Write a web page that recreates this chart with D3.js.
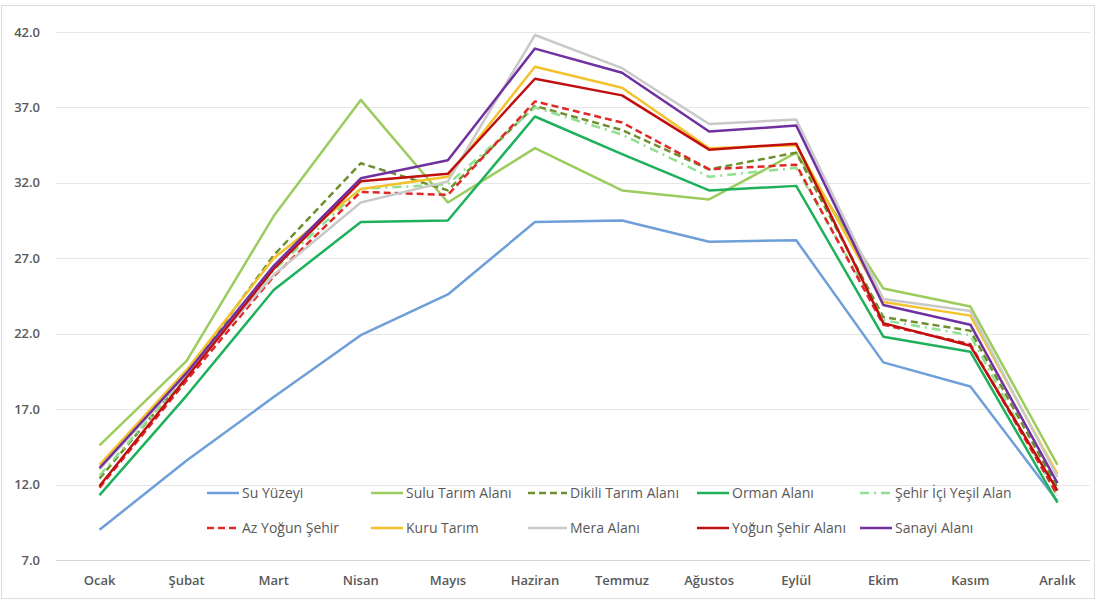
<!DOCTYPE html>
<html lang="tr">
<head>
<meta charset="utf-8">
<script src="https://cdn.jsdelivr.net/npm/d3@7"></script>
<style>
  html, body { margin: 0; padding: 0; background: #fff; }
  svg { display: block; }
  .axis-label { font-family: "Open Sans", "DejaVu Sans", sans-serif; font-weight: 600; fill: #595959; }
  .legend-label { font-family: "Liberation Sans Narrow", "Open Sans", sans-serif; fill: #595959; }
</style>
</head>
<body>
<svg id="chart" width="1097" height="601"></svg>
<script>
// Monthly values per land-use class
const months = ["Ocak", "Şubat", "Mart", "Nisan", "Mayıs", "Haziran", "Temmuz", "Ağustos", "Eylül", "Ekim", "Kasım", "Aralık"];
const yTicks = [7, 12, 17, 22, 27, 32, 37, 42];

const suYuzeyi      = [9.0, 13.6, 17.8, 21.9, 24.6, 29.4, 29.5, 28.1, 28.2, 20.1, 18.5, 10.9];
const suluTarim     = [14.6, 20.2, 29.8, 37.5, 30.7, 34.3, 31.5, 30.9, 34.0, 25.0, 23.8, 13.3];
const dikiliTarim   = [12.4, 19.3, 27.2, 33.3, 31.5, 37.1, 35.5, 32.9, 34.0, 23.1, 22.2, 11.8];
const ormanAlani    = [11.3, 17.9, 24.9, 29.4, 29.5, 36.4, 33.9, 31.5, 31.8, 21.8, 20.8, 10.8];
const sehirIciYesil = [12.6, 19.2, 26.2, 31.6, 31.9, 37.0, 35.2, 32.4, 33.0, 22.9, 21.9, 11.2];
const azYogunSehir  = [11.8, 18.9, 25.8, 31.4, 31.2, 37.4, 36.0, 32.9, 33.2, 22.6, 21.3, 11.3];
const kuruTarim     = [13.3, 19.6, 27.0, 31.6, 32.4, 39.7, 38.3, 34.3, 34.5, 24.1, 23.2, 12.7];
const meraAlani     = [13.0, 19.3, 25.9, 30.7, 32.1, 41.8, 39.6, 35.9, 36.2, 24.3, 23.5, 12.5];
const yogunSehir    = [11.9, 19.1, 26.3, 32.1, 32.6, 38.9, 37.8, 34.2, 34.6, 22.7, 21.2, 11.6];
const sanayiAlani   = [13.1, 19.4, 26.5, 32.3, 33.5, 40.9, 39.3, 35.4, 35.8, 23.9, 22.6, 12.1];

const series = [
  { name: "Su Yüzeyi",            values: suYuzeyi,      color: "#6f9fd8", dash: null },
  { name: "Sulu Tarım Alanı",     values: suluTarim,     color: "#9ccc5e", dash: null },
  { name: "Dikili Tarım Alanı",   values: dikiliTarim,   color: "#6f8f2e", dash: "7,4" },
  { name: "Orman Alanı",          values: ormanAlani,    color: "#1fb05c", dash: null },
  { name: "Şehir İçi Yeşil Alan", values: sehirIciYesil, color: "#8fe08f", dash: "9,5,2,5" },
  { name: "Az Yoğun Şehir",       values: azYogunSehir,  color: "#e02828", dash: "7,4" },
  { name: "Kuru Tarım",           values: kuruTarim,     color: "#f4c22c", dash: null },
  { name: "Mera Alanı",           values: meraAlani,     color: "#c9c9c9", dash: null },
  { name: "Yoğun Şehir Alanı",    values: yogunSehir,    color: "#c00f0f", dash: null },
  { name: "Sanayi Alanı",         values: sanayiAlani,   color: "#7030a0", dash: null }
];

const svg = d3.select("#chart");

// outer frame
svg.append("rect")
  .attr("x", 1.5).attr("y", 5.5).attr("width", 1093).attr("height", 593)
  .attr("fill", "none").attr("stroke", "#dcdcdc").attr("stroke-width", 1);

const x = d3.scaleBand().domain(months).range([56, 1101]);
const xc = m => x(m) + x.bandwidth() / 2;
const y = d3.scaleLinear().domain([7, 42]).range([560, 32]);

// horizontal gridlines
svg.append("g").selectAll("line").data(yTicks).join("line")
  .attr("x1", 56).attr("x2", 1090)
  .attr("y1", d => Math.round(y(d)) + 0.5).attr("y2", d => Math.round(y(d)) + 0.5)
  .attr("stroke", d => d === 7 ? "#d6d6d6" : "#e6e6e6").attr("stroke-width", 1.2);

// y axis labels
svg.append("g").selectAll("text").data(yTicks).join("text")
  .attr("class", "axis-label")
  .attr("x", 40).attr("y", d => y(d) + 4.5)
  .attr("text-anchor", "end").attr("font-size", 13)
  .text(d => d.toFixed(1));

// x axis labels
svg.append("g").selectAll("text").data(months).join("text")
  .attr("class", "axis-label")
  .attr("x", d => xc(d)).attr("y", 585)
  .attr("text-anchor", "middle").attr("font-size", 13).attr("font-weight", 700)
  .text(d => d);

// series lines
const line = d3.line().x((d, i) => xc(months[i])).y(d => y(d));
svg.append("g").selectAll("path").data(series).join("path")
  .attr("d", s => line(s.values))
  .attr("fill", "none")
  .attr("stroke", s => s.color)
  .attr("stroke-width", 2.5)
  .attr("stroke-linejoin", "round")
  .attr("stroke-dasharray", s => s.dash);

// legend: two rows of five
const legendCols = [207, 371, 535, 697, 860];
const legendRows = [493, 528];
const lg = svg.append("g").selectAll("g").data(series).join("g")
  .attr("transform", (s, i) => `translate(${legendCols[i % 5]},${legendRows[Math.floor(i / 5)]})`);
lg.append("line")
  .attr("x1", (s, i) => [0, 0, -7, 0, 0][i % 5]).attr("x2", 32)
  .attr("y1", 0).attr("y2", 0)
  .attr("stroke", s => s.color).attr("stroke-width", 2.5)
  .attr("stroke-dasharray", s => s.dash);
lg.append("text")
  .attr("class", "legend-label")
  .attr("x", 35).attr("y", 5)
  .attr("font-size", 14)
  .text(s => s.name);
</script>
</body>
</html>
